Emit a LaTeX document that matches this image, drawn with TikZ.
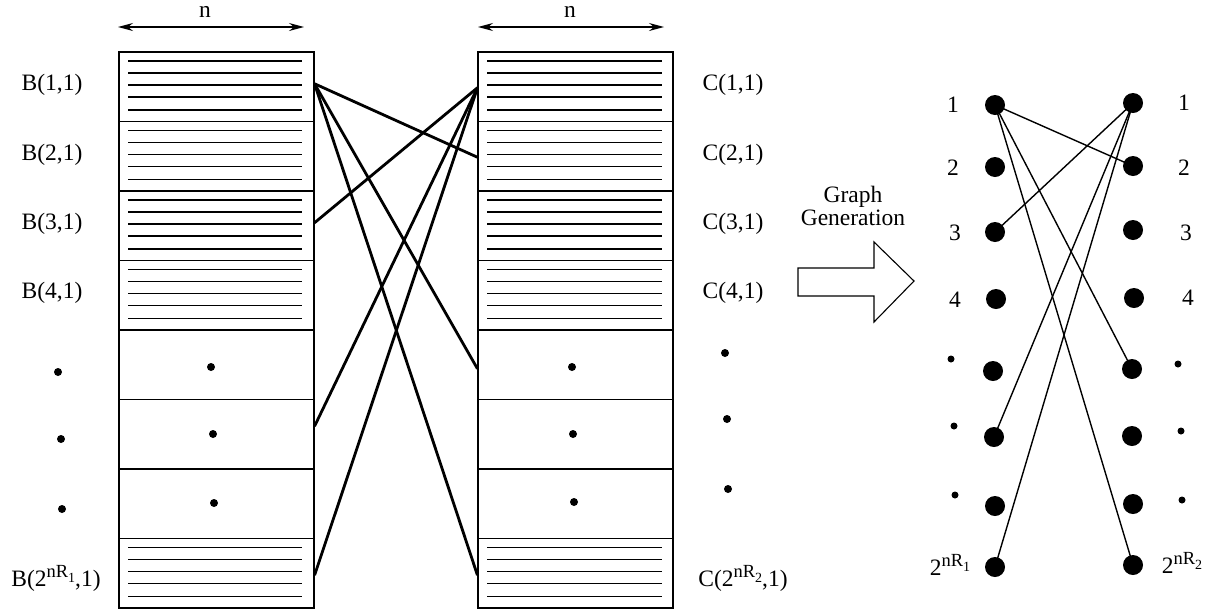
\documentclass[tikz,border=0pt]{standalone}
\usepackage{fontspec}
\setmainfont{Liberation Serif}
\usetikzlibrary{arrows.meta}
\newcommand\pwr[1]{2\raisebox{9pt}{\fontsize{18.5}{18.5}\selectfont nR\raisebox{-5pt}{\fontsize{14}{14}\selectfont #1}}}
\begin{document}
\begin{tikzpicture}[x=1pt,y=-1pt,
  every node/.style={font=\fontsize{23.5}{27}\selectfont, inner sep=0pt},
  cell/.style={draw, line width=1.1pt, minimum width=195pt, minimum height=69.5pt},
  hatch/.style={line width=1.2pt},
  thickcon/.style={line width=2.8pt},
  thincon/.style={line width=1.4pt},
  bigdot/.style={circle, fill=black, minimum size=20pt},
  smalldot/.style={circle, fill=black, minimum size=8pt},
  tinydot/.style={circle, fill=black, minimum size=7pt},
  dimarrow/.style={line width=1.1pt, {Stealth[length=15pt,width=8pt,inset=5pt]}-{Stealth[length=15pt,width=8pt,inset=5pt]}}
]
\useasboundingbox (0,0) rectangle (1215,614);

% dimension arrows
\coordinate (nb1) at (118,27); \coordinate (nb2) at (304,27);
\coordinate (nc1) at (478,27); \coordinate (nc2) at (664,27);
\draw[dimarrow] (nb1) -- (nb2);
\draw[dimarrow] (nc1) -- (nc2);
\node (nlb) at (205,11.5) {n};
\node (nlc) at (570,11.5) {n};

% cells
\foreach \i in {1,...,8}{
  \node[cell] (b\i) at (216.5,{52+(\i-1)*69.5+34.75}) {};
  \node[cell] (c\i) at (575.5,{52+(\i-1)*69.5+34.75}) {};
}
\foreach \i in {1,2,3,4,8}{
  \foreach \o in {9,21,33,45,58}{
    \draw[hatch] (128,{52+(\i-1)*69.5+\o}) -- (302,{52+(\i-1)*69.5+\o});
    \draw[hatch] (487,{52+(\i-1)*69.5+\o}) -- (662,{52+(\i-1)*69.5+\o});
  }
}
% inner dots
\node[smalldot] (bd5) at (211,367) {};
\node[smalldot] (bd6) at (213,434) {};
\node[smalldot] (bd7) at (214,503) {};
\node[smalldot] (cd5) at (572,367) {};
\node[smalldot] (cd6) at (573,434) {};
\node[smalldot] (cd7) at (574,502) {};

% B labels
\node (lb1) at (52,85) {B(1,1)};
\node (lb2) at (52,155) {B(2,1)};
\node (lb3) at (52,224) {B(3,1)};
\node (lb4) at (52,293) {B(4,1)};
\node[smalldot] (ob5) at (58,372) {};
\node[smalldot] (ob6) at (61,439) {};
\node[smalldot] (ob7) at (62,509) {};
\node (lb8) at (56,578) {B(\pwr{1},1)};

% C labels
\node (lc1) at (733,85) {C(1,1)};
\node (lc2) at (733,155) {C(2,1)};
\node (lc3) at (733,224) {C(3,1)};
\node (lc4) at (733,293) {C(4,1)};
\node[smalldot] (oc5) at (725,353) {};
\node[smalldot] (oc6) at (727,419) {};
\node[smalldot] (oc7) at (728,489) {};
\node (lc8) at (743,578) {C(\pwr{2},1)};

% connection points
\coordinate (pb1) at ([yshift=3pt]b1.east);
\coordinate (pb3) at ([yshift=3pt]b3.east);
\coordinate (pb6) at ([yshift=8pt]b6.east);
\coordinate (pb8) at ([yshift=-2pt]b8.east);
\coordinate (pc1) at ([yshift=-1pt]c1.west);
\coordinate (pc2) at ([yshift=-1pt]c2.west);
\coordinate (pc5) at ([yshift=-4pt]c5.west);
\coordinate (pc8) at ([yshift=-2pt]c8.west);
\draw[thickcon] (pb1) -- (pc2);
\draw[thickcon] (pb1) -- (pc5);
\draw[thickcon] (pb1) -- (pc8);
\draw[thickcon] (pc1) -- (pb3);
\draw[thickcon] (pc1) -- (pb6);
\draw[thickcon] (pc1) -- (pb8);

% big arrow
\node (gg) at (853,209) {\begin{tabular}{@{}c@{}}Graph\\[-4pt]Generation\end{tabular}};
\draw[line width=1.1pt] (798,268) -- (874,268) -- (874,242) -- (914,281) -- (874,322) -- (874,296) -- (798,296) -- cycle;

% graph
\node[bigdot] (l1) at (995,105) {};
\node[bigdot] (l2) at (995,167) {};
\node[bigdot] (l3) at (995,232) {};
\node[bigdot] (l4) at (996,299) {};
\node[bigdot] (l5) at (993,371) {};
\node[bigdot] (l6) at (994,437) {};
\node[bigdot] (l7) at (995,506) {};
\node[bigdot] (l8) at (995,567) {};
\node[bigdot] (r1) at (1133,103) {};
\node[bigdot] (r2) at (1133,166) {};
\node[bigdot] (r3) at (1133,230) {};
\node[bigdot] (r4) at (1134,298) {};
\node[bigdot] (r5) at (1132,369) {};
\node[bigdot] (r6) at (1132,436) {};
\node[bigdot] (r7) at (1133,504) {};
\node[bigdot] (r8) at (1133,565) {};

\node (gl1) at (953,105) {1};
\node (gl2) at (953,168) {2};
\node (gl3) at (955,233) {3};
\node (gl4) at (955,300) {4};
\node[tinydot] (gl5) at (951,359) {};
\node[tinydot] (gl6) at (954,426) {};
\node[tinydot] (gl7) at (955,495) {};
\node (gl8) at (950,565) {\pwr{1}};
\node (gr1) at (1184,103) {1};
\node (gr2) at (1184,168) {2};
\node (gr3) at (1186,233) {3};
\node (gr4) at (1188,298) {4};
\node[tinydot] (gr5) at (1178,364) {};
\node[tinydot] (gr6) at (1181,431) {};
\node[tinydot] (gr7) at (1182,500) {};
\node (gr8) at (1182,563) {\pwr{2}};

\draw[thincon] (l1.center) -- (r2.center);
\draw[thincon] (l1.center) -- (r5.center);
\draw[thincon] (l1.center) -- (r8.center);
\draw[thincon] (r1.center) -- (l3.center);
\draw[thincon] (r1.center) -- (l6.center);
\draw[thincon] (r1.center) -- (l8.center);
\end{tikzpicture}
\end{document}
